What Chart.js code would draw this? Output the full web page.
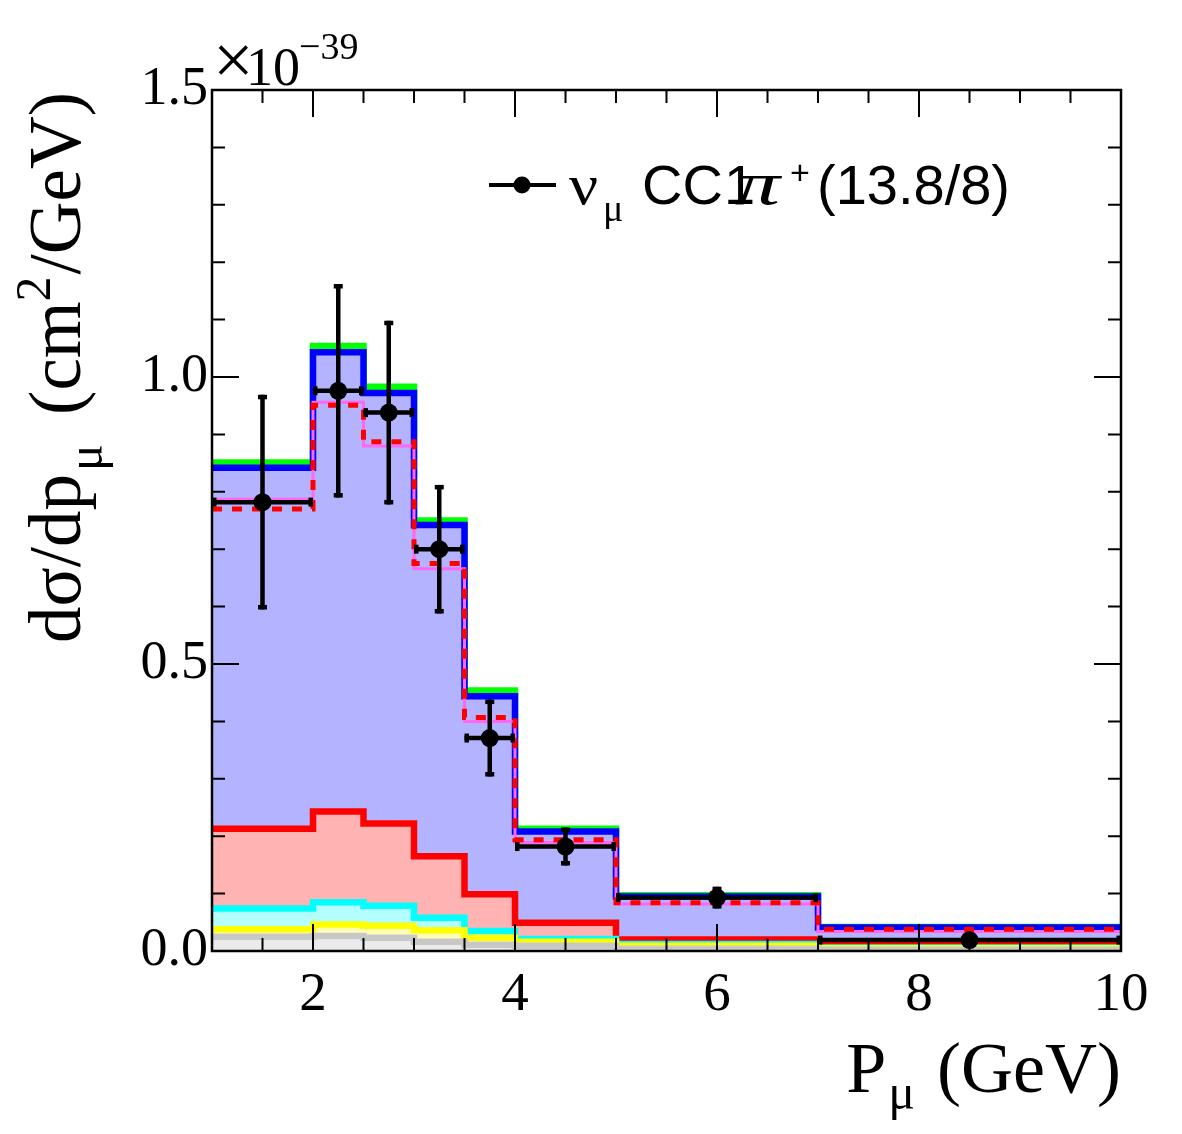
<!DOCTYPE html>
<html><head><meta charset="utf-8">
<script src="https://cdn.jsdelivr.net/npm/chart.js@4.4.0/dist/chart.umd.min.js"></script>
<style>html,body{margin:0;padding:0;background:#fff;}</style>
</head><body>
<canvas id="c" width="1182" height="1134"></canvas>
<script>
// Bin edges in P_mu (GeV)
const binEdges = [1, 2, 2.5, 3, 3.5, 4, 5, 7, 10];
// Stacked model contributions: cumulative top of each layer, units of 1e-39 cm^2/GeV
const stackGreen  = [0.851, 1.054, 0.983, 0.750, 0.454, 0.213, 0.097, 0.042];
const stackBlue   = [0.842, 1.043, 0.972, 0.742, 0.444, 0.208, 0.095, 0.041];
const stackRed    = [0.213, 0.243, 0.222, 0.165, 0.099, 0.049, 0.020, 0.010];
const stackCyan   = [0.074, 0.085, 0.079, 0.058, 0.035, 0.021, 0.012, 0.006];
const stackYellow = [0.038, 0.046, 0.044, 0.036, 0.023, 0.016, 0.009, 0.005];
const stackGray   = [0.025, 0.026, 0.023, 0.016, 0.011, 0.009, 0.004, 0.002];
// Alternative model curves
const magentaModel   = [0.787, 0.956, 0.880, 0.666, 0.400, 0.189, 0.082, 0.034];
const redDashedModel = [0.770, 0.951, 0.887, 0.675, 0.407, 0.194, 0.084, 0.038];
// Data points
const dataCenters   = [1.5, 2.25, 2.75, 3.25, 3.75, 4.5, 6, 8.5];
const dataHalfWidth = [0.5, 0.25, 0.25, 0.25, 0.25, 0.5, 1, 1.5];
const dataValues    = [0.782, 0.976, 0.938, 0.700, 0.371, 0.182, 0.093, 0.019];
const dataErrors    = [0.187, 0.186, 0.160, 0.112, 0.067, 0.033, 0.019, 0.003];
// Ticks
const xTickValues = [2, 4, 6, 8, 10];
const yTickValues = [0, 0.5, 1.0, 1.5];
const xMinorStep = 0.5;
const yMinorStep = 0.1;

function stepPoints(vals) {
  return binEdges.map((x, i) => ({ x: x, y: vals[Math.min(i, vals.length - 1)] }));
}
function layer(vals, line, fill, order) {
  return { data: stepPoints(vals), stepped: 'before', borderColor: line, backgroundColor: fill,
    fill: 'origin', borderWidth: 6.5, pointRadius: 0, order: order,
    borderJoinStyle: 'miter', borderCapStyle: 'butt' };
}

const SERIF = '"Liberation Serif", "Times New Roman", serif';
const SANS = '"Liberation Sans", Arial, sans-serif';

function drawRich(ctx, parts, x, y, align) {
  let total = 0;
  const widths = parts.map(p => { ctx.font = p.font; const w = ctx.measureText(p.t).width + (p.dx || 0); total += w; return w; });
  let cx = align === 'right' ? x - total : (align === 'center' ? x - total / 2 : x);
  ctx.textBaseline = 'alphabetic';
  ctx.textAlign = 'left';
  parts.forEach((p, i) => {
    ctx.font = p.font;
    ctx.fillText(p.t, cx + (p.ox || 0), y + (p.dy || 0));
    cx += widths[i];
  });
}
function textAt(ctx, t, font, x, y, sx) {
  ctx.font = font;
  ctx.textAlign = 'left';
  ctx.textBaseline = 'alphabetic';
  if (sx && sx !== 1) {
    ctx.save(); ctx.translate(x, y); ctx.scale(sx, 1); ctx.fillText(t, 0, 0); ctx.restore();
  } else {
    ctx.fillText(t, x, y);
  }
}

const errorBarPlugin = {
  id: 'errbars',
  beforeDatasetDraw(chart, args) {
    if (chart.data.datasets[args.index].id !== 'data') return;
    const ctx = chart.ctx, xs = chart.scales.x, ys = chart.scales.y;
    ctx.save();
    ctx.fillStyle = '#000';
    ctx.strokeStyle = '#000';
    ctx.lineWidth = 4.5;
    ctx.lineCap = 'butt';
    dataCenters.forEach((c, i) => {
      const px = xs.getPixelForValue(c), py = ys.getPixelForValue(dataValues[i]);
      const xl = xs.getPixelForValue(c - dataHalfWidth[i]), xr = xs.getPixelForValue(c + dataHalfWidth[i]);
      const yt = ys.getPixelForValue(dataValues[i] + dataErrors[i]), yb = ys.getPixelForValue(dataValues[i] - dataErrors[i]);
      ctx.beginPath();
      ctx.moveTo(xl, py); ctx.lineTo(xr, py);
      ctx.moveTo(px, yt); ctx.lineTo(px, yb);
      ctx.stroke();
      ctx.fillRect(xl, py - 4.5, 4.5, 9);
      ctx.fillRect(xr - 4.5, py - 4.5, 4.5, 9);
      if (yb - yt > 12) {
        ctx.fillRect(px - 4.5, yt, 9, 4.5);
        ctx.fillRect(px - 4.5, yb - 4.5, 9, 4.5);
      }
    });
    ctx.restore();
  }
};

const framePlugin = {
  id: 'frame',
  afterDraw(chart) {
    const ctx = chart.ctx, a = chart.chartArea, xs = chart.scales.x, ys = chart.scales.y;
    ctx.save();
    ctx.strokeStyle = '#000';
    ctx.lineWidth = 2;
    ctx.beginPath();
    const major = 27, minor = 13;
    for (let v = 1; v <= 10 + 1e-9; v += xMinorStep) {
      const isMajor = xTickValues.some(t => Math.abs(t - v) < 1e-9);
      const len = isMajor ? major : minor;
      const p = xs.getPixelForValue(v);
      ctx.moveTo(p, a.bottom); ctx.lineTo(p, a.bottom - len);
      ctx.moveTo(p, a.top); ctx.lineTo(p, a.top + len);
    }
    for (let k = 0; k <= 15; k++) {
      const v = k * yMinorStep;
      const isMajor = k % 5 === 0;
      const len = isMajor ? major : minor;
      const p = ys.getPixelForValue(v);
      ctx.moveTo(a.left, p); ctx.lineTo(a.left + len, p);
      ctx.moveTo(a.right, p); ctx.lineTo(a.right - len, p);
    }
    ctx.stroke();
    ctx.lineWidth = 2.5;
    ctx.strokeRect(a.left, a.top, a.right - a.left, a.bottom - a.top);

    ctx.fillStyle = '#000';
    // exponent label
    textAt(ctx, '\u00d7', '72px ' + SERIF, a.left + 1, 84);
    textAt(ctx, '10', '54px ' + SERIF, a.left + 34, 85);
    textAt(ctx, '\u221239', '38px ' + SERIF, a.left + 87, 59);
    // x title
    drawRich(ctx, [
      { t: 'P', font: '72px ' + SERIF },
      { t: '\u03bc', font: '50px ' + SERIF, dy: 17, dx: 6, ox: 2 },
      { t: ' (GeV)', font: '72px ' + SERIF }
    ], 1121, 1092, 'right');
    // y title (rotated)
    ctx.save();
    ctx.translate(80, 92);
    ctx.rotate(-Math.PI / 2);
    drawRich(ctx, [
      { t: 'd\u03c3/dp', font: '73px ' + SERIF },
      { t: '\u03bc', font: '50px ' + SERIF, dy: 22, dx: 14, ox: 3 },
      { t: ' (cm', font: '73px ' + SERIF },
      { t: '2', font: '50px ' + SERIF, dy: -30, dx: 2 },
      { t: '/GeV)', font: '73px ' + SERIF }
    ], 0, 0, 'right');
    ctx.restore();

    // legend
    ctx.lineWidth = 4;
    ctx.beginPath();
    ctx.moveTo(489, 185); ctx.lineTo(556, 185);
    ctx.stroke();
    ctx.beginPath();
    ctx.arc(522, 185, 8.5, 0, Math.PI * 2);
    ctx.fill();
    textAt(ctx, '\u03bd', '56px ' + SERIF, 569, 204, 1.15);
    textAt(ctx, '\u03bc', '38px ' + SERIF, 603, 221);
    textAt(ctx, 'CC', '56px ' + SANS, 642, 204);
    textAt(ctx, '1', '56px ' + SANS, 724, 204);
    textAt(ctx, '\u03c0', 'italic 62px ' + SERIF, 735, 204, 1.45);
    textAt(ctx, '+', '34px ' + SANS, 790, 184);
    textAt(ctx, '(13.8/8)', '56px ' + SANS, 817, 204);
    ctx.restore();
  }
};

const datasets = [
  { id: 'data', data: dataCenters.map((c, i) => ({ x: c, y: dataValues[i] })), showLine: false,
    pointRadius: 9, pointHoverRadius: 9, pointBackgroundColor: '#000', pointBorderWidth: 0, borderColor: '#000', order: 1 },
  { data: stepPoints(redDashedModel), stepped: 'before', borderColor: '#ff0000', borderWidth: 5,
    borderDash: [10, 10], fill: false, pointRadius: 0, order: 2, borderJoinStyle: 'miter', borderCapStyle: 'butt' },
  { data: stepPoints(magentaModel), stepped: 'before', borderColor: '#ff66f2', borderWidth: 3,
    fill: false, pointRadius: 0, order: 3, borderJoinStyle: 'miter', borderCapStyle: 'butt' },
  layer(stackGray, '#c8c8c8', '#ebebeb', 4),
  layer(stackYellow, '#ffff00', '#ffffb3', 5),
  layer(stackCyan, '#00ffff', '#b3ffff', 6),
  layer(stackRed, '#ff0000', '#ffb3b3', 7),
  layer(stackBlue, '#0000ff', '#b3b3ff', 8),
  layer(stackGreen, '#00ff00', '#b3ffb3', 9)
];

new Chart(document.getElementById('c'), {
  type: 'line',
  data: { datasets: datasets },
  options: {
    responsive: false, animation: false, devicePixelRatio: 1,
    layout: { padding: { left: 0, right: 61, top: 90, bottom: 0 } },
    plugins: { legend: { display: false }, tooltip: { enabled: false } },
    events: [],
    scales: {
      x: {
        type: 'linear', min: 1, max: 10,
        grid: { display: false, drawTicks: false }, border: { display: false },
        ticks: { color: '#000', font: { family: SERIF, size: 55 }, padding: 12, maxRotation: 0, autoSkip: false,
                 callback: v => String(v) },
        afterBuildTicks: s => { s.ticks = xTickValues.map(v => ({ value: v })); },
        afterFit: s => { s.height = 183; }
      },
      y: {
        type: 'linear', min: 0, max: 1.5,
        grid: { display: false, drawTicks: false }, border: { display: false },
        ticks: { color: '#000', font: { family: SERIF, size: 54 }, padding: 4, autoSkip: false,
                 callback: v => Number(v).toFixed(1) },
        afterBuildTicks: s => { s.ticks = yTickValues.map(v => ({ value: v })); },
        afterFit: s => { s.width = 212; }
      }
    }
  },
  plugins: [errorBarPlugin, framePlugin]
});
</script>
</body></html>
